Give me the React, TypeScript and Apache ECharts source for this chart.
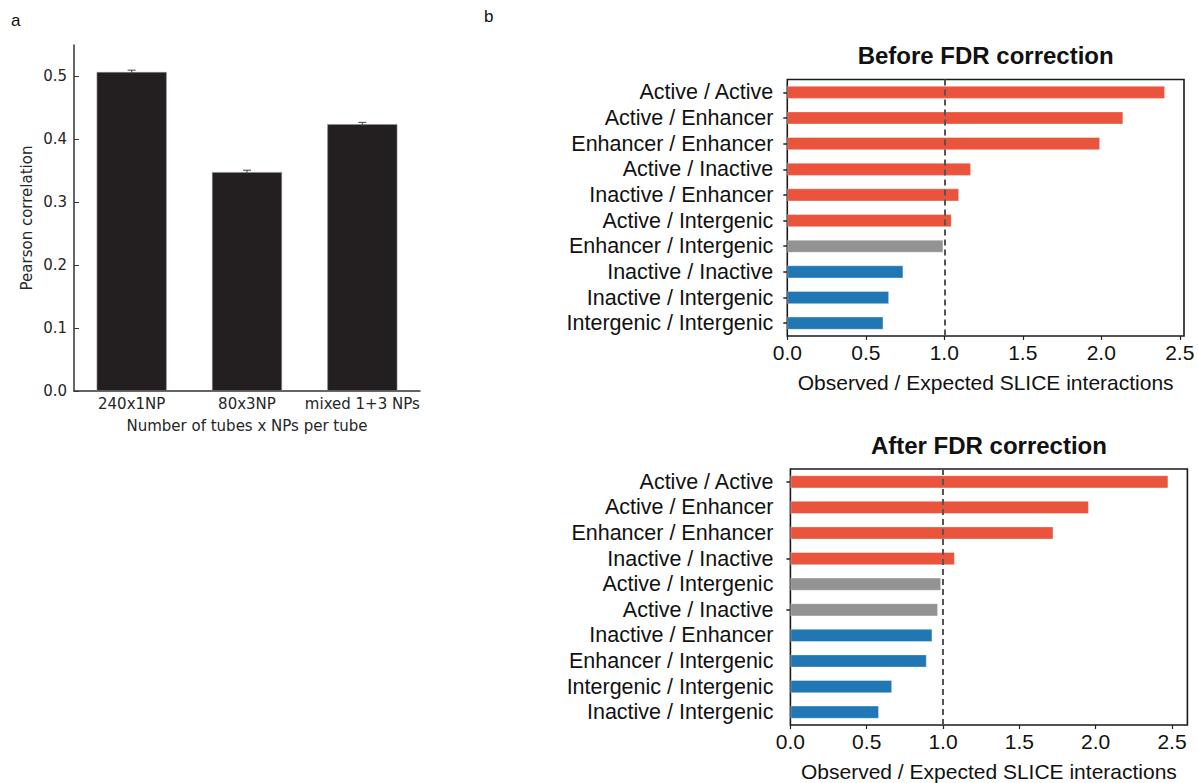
import React, { useEffect, useRef } from "react";
import * as echarts from "echarts";

// ---------- Panel a ----------
const panelACategories = ["240x1NP", "80x3NP", "mixed 1+3 NPs"];
const panelAValues = [0.507, 0.348, 0.424];
const panelAErrors = [0.003, 0.003, 0.003];
const panelATicks = [0, 0.1, 0.2, 0.3, 0.4, 0.5];

// ---------- Panel b (top) ----------
const beforeCategories = [
  "Active / Active",
  "Active / Enhancer",
  "Enhancer / Enhancer",
  "Active / Inactive",
  "Inactive / Enhancer",
  "Active / Intergenic",
  "Enhancer / Intergenic",
  "Inactive / Inactive",
  "Inactive / Intergenic",
  "Intergenic / Intergenic",
];
const beforeValues = [2.406, 2.14, 1.992, 1.17, 1.094, 1.047, 0.994, 0.739, 0.648, 0.612];
const beforeGroups = ["up", "up", "up", "up", "up", "up", "ns", "down", "down", "down"];

// ---------- Panel b (bottom) ----------
const afterCategories = [
  "Active / Active",
  "Active / Enhancer",
  "Enhancer / Enhancer",
  "Inactive / Inactive",
  "Active / Intergenic",
  "Active / Inactive",
  "Inactive / Enhancer",
  "Enhancer / Intergenic",
  "Intergenic / Intergenic",
  "Inactive / Intergenic",
];
const afterValues = [2.476, 1.955, 1.723, 1.077, 0.987, 0.967, 0.93, 0.893, 0.666, 0.58];
const afterGroups = ["up", "up", "up", "up", "ns", "ns", "down", "down", "down", "down"];

const panelBTicks = [0, 0.5, 1, 1.5, 2, 2.5];
const expectedRatio = 1;

const groupColors: Record<string, string> = {
  up: "#ea543c",
  ns: "#939393",
  down: "#2077b4",
};

const SANS = "'Liberation Sans', Arial, Helvetica, sans-serif";
const DEJAVU = "'DejaVu Sans', sans-serif";

function barData(values: number[], groups: string[]) {
  return values.map((v, i) => ({
    value: v,
    itemStyle: { color: groupColors[groups[i]] },
  }));
}

export default function App() {
  const ref = useRef<HTMLDivElement>(null);

  useEffect(() => {
    if (!ref.current) return;
    const chart = echarts.init(ref.current, undefined, { renderer: "svg" });

    const gridB1 = { left: 787.3, top: 79.5, width: 396.7, height: 256.5 };
    const gridB2 = { left: 790.4, top: 469, width: 397, height: 256.5 };

    const xAxisB = (gridIndex: number, max: number) => ({
      type: "value",
      gridIndex,
      min: 0,
      max,
      interval: 0.5,
      axisLine: { show: false },
      axisTick: {
        show: true,
        inside: false,
        length: 4,
        lineStyle: { color: "#222", width: 1.2 },
        customValues: panelBTicks,
      },
      axisLabel: {
        fontFamily: SANS,
        fontSize: 21,
        color: "#111",
        margin: 6,
        formatter: (v: number) => v.toFixed(1),
        customValues: panelBTicks,
      },
      splitLine: { show: false },
      name: "Observed / Expected SLICE interactions",
      nameLocation: "middle",
      nameGap: 36,
      nameTextStyle: { fontFamily: SANS, fontSize: 21, color: "#111" },
    });

    const yAxisB = (
      gridIndex: number,
      cats: string[],
      margin: number,
      tickFn?: (i: number) => boolean
    ) => ({
      type: "category",
      gridIndex,
      data: cats,
      inverse: true,
      axisLine: { show: false },
      axisTick: {
        show: true,
        alignWithLabel: true,
        length: 4,
        lineStyle: { color: "#222", width: 1.5 },
        interval: tickFn ? (i: number) => tickFn(i) : 0,
      },
      axisLabel: {
        fontFamily: SANS,
        fontSize: 21.5,
        color: "#111",
        margin,
        interval: 0,
      },
      splitLine: { show: false },
    });

    const afterTickRows = new Set([0, 3, 5]);

    const option: any = {
      animation: false,
      backgroundColor: "#fff",
      title: [
        {
          text: "Before FDR correction",
          left: gridB1.left + gridB1.width / 2 - 5,
          top: 38,
          textAlign: "center",
          textStyle: { fontFamily: SANS, fontSize: 24, fontWeight: "bold", color: "#111" },
        },
        {
          text: "After FDR correction",
          left: gridB2.left + gridB2.width / 2 - 5,
          top: 428,
          textAlign: "center",
          textStyle: { fontFamily: SANS, fontSize: 24, fontWeight: "bold", color: "#111" },
        },
      ],
      graphic: [
        {
          type: "text",
          left: 11,
          top: 12,
          style: { text: "a", fontFamily: SANS, fontSize: 17, fill: "#111" },
        },
        {
          type: "text",
          left: 484,
          top: 8,
          style: { text: "b", fontFamily: SANS, fontSize: 17, fill: "#111" },
        },
      ],
      grid: [
        { left: 74, top: 45, width: 346, height: 346, show: false },
        { ...gridB1, show: true, borderColor: "#1a1a1a", borderWidth: 1.6, backgroundColor: "transparent" },
        { ...gridB2, show: true, borderColor: "#1a1a1a", borderWidth: 1.6, backgroundColor: "transparent" },
      ],
      xAxis: [
        {
          type: "category",
          gridIndex: 0,
          data: panelACategories,
          axisLine: { show: true, lineStyle: { color: "#333", width: 1.5 } },
          axisTick: { show: false },
          axisLabel: { fontFamily: DEJAVU, fontSize: 15, color: "#262626", margin: 5, interval: 0 },
          name: "Number of tubes x NPs per tube",
          nameLocation: "middle",
          nameGap: 27,
          nameTextStyle: { fontFamily: DEJAVU, fontSize: 15, color: "#262626" },
        },
        xAxisB(1, 2.527),
        xAxisB(2, 2.601),
      ],
      yAxis: [
        {
          type: "value",
          gridIndex: 0,
          min: 0,
          max: 0.55,
          interval: 0.1,
          axisLine: { show: true, lineStyle: { color: "#333", width: 1.5 } },
          axisTick: {
            show: true,
            inside: true,
            length: 5,
            lineStyle: { color: "#333" },
            customValues: panelATicks,
          },
          axisLabel: {
            fontFamily: DEJAVU,
            fontSize: 15,
            color: "#262626",
            margin: 7,
            formatter: (v: number) => v.toFixed(1),
            customValues: panelATicks,
          },
          splitLine: { show: false },
          name: "Pearson correlation",
          nameLocation: "middle",
          nameGap: 40,
          nameRotate: 90,
          nameTextStyle: { fontFamily: DEJAVU, fontSize: 15, color: "#262626" },
        },
        yAxisB(1, beforeCategories, 14),
        yAxisB(2, afterCategories, 17, (i) => afterTickRows.has(i)),
      ],
      series: [
        {
          type: "bar",
          xAxisIndex: 0,
          yAxisIndex: 0,
          data: panelAValues,
          barWidth: 70,
          itemStyle: { color: "#231f20", borderColor: "#8a8888", borderWidth: 0.6 },
          z: 2,
        },
        {
          type: "custom",
          xAxisIndex: 0,
          yAxisIndex: 0,
          data: panelAValues.map((v, i) => [i, v, panelAErrors[i]]),
          z: 3,
          renderItem: (params: any, api: any) => {
            const xi = api.value(0);
            const v = api.value(1);
            const e = api.value(2);
            const top = api.coord([xi, v + e]);
            const bot = api.coord([xi, v - e]);
            const cap = 4;
            return {
              type: "group",
              children: [
                {
                  type: "line",
                  shape: { x1: top[0], y1: top[1], x2: bot[0], y2: bot[1] },
                  style: { stroke: "#444", lineWidth: 1 },
                },
                {
                  type: "line",
                  shape: { x1: top[0] - cap, y1: top[1], x2: top[0] + cap, y2: top[1] },
                  style: { stroke: "#444", lineWidth: 1 },
                },
              ],
            };
          },
        },
        {
          type: "bar",
          xAxisIndex: 1,
          yAxisIndex: 1,
          data: barData(beforeValues, beforeGroups),
          barWidth: 13,
          itemStyle: { borderColor: "rgba(255,255,255,0.45)", borderWidth: 0.8 },
          markLine: {
            silent: true,
            symbol: ["none", "none"],
            label: { show: false },
            lineStyle: { type: [6, 4], color: "#555", width: 2 },
            data: [{ xAxis: expectedRatio }],
            z: 5,
          },
        },
        {
          type: "bar",
          xAxisIndex: 2,
          yAxisIndex: 2,
          data: barData(afterValues, afterGroups),
          barWidth: 13,
          itemStyle: { borderColor: "rgba(255,255,255,0.45)", borderWidth: 0.8 },
          markLine: {
            silent: true,
            symbol: ["none", "none"],
            label: { show: false },
            lineStyle: { type: [6, 4], color: "#555", width: 2 },
            data: [{ xAxis: expectedRatio }],
            z: 5,
          },
        },
      ],
    };

    chart.setOption(option);
    return () => chart.dispose();
  }, []);

  return (
    <div
      ref={ref}
      style={{ position: "fixed", left: 0, top: 0, width: 1198, height: 783, background: "#fff" }}
    />
  );
}
